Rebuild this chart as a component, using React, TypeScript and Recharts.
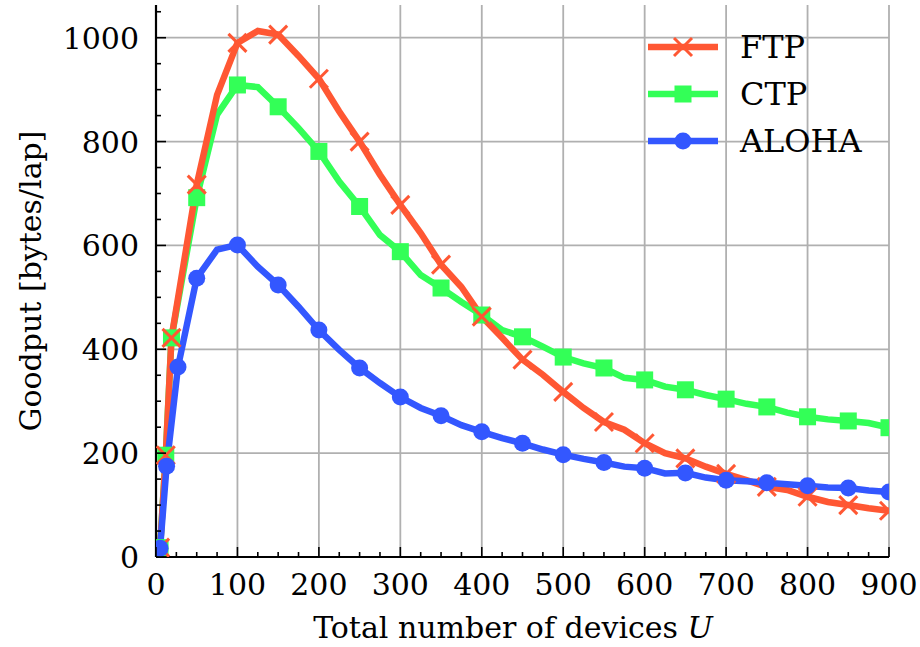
import React from 'react'
import {
    LineChart,
    Line,
    XAxis,
    YAxis,
    CartesianGrid,
    Legend,
    Label,
} from 'recharts'

// devices U and goodput per series
const ftpU = [5, 12, 19, 50, 75, 100, 125, 150, 175, 200, 225, 250, 275, 300, 325, 350, 375, 400, 425, 450, 475, 500, 525, 550, 575, 600, 625, 650, 675, 700, 725, 750, 775, 800, 825, 850, 875, 900]
const ftpGoodput = [18, 196, 422, 717, 890, 990, 1013, 1006, 965, 921, 858, 800, 736, 678, 624, 563, 520, 463, 422, 380, 351, 318, 287, 260, 245, 219, 200, 190, 174, 160, 148, 135, 129, 116, 106, 100, 94, 89]

const ctpU = [5, 12, 19, 50, 75, 100, 125, 150, 175, 200, 225, 250, 275, 300, 325, 350, 375, 400, 425, 450, 475, 500, 525, 550, 575, 600, 625, 650, 675, 700, 725, 750, 775, 800, 825, 850, 875, 900]
const ctpGoodput = [18, 196, 422, 692, 852, 909, 905, 867, 826, 781, 723, 675, 620, 588, 543, 518, 491, 466, 437, 424, 405, 385, 373, 364, 345, 341, 328, 322, 312, 304, 295, 289, 278, 270, 265, 262, 258, 249]

const alohaU = [5, 13, 27, 50, 75, 100, 125, 150, 175, 200, 225, 250, 275, 300, 325, 350, 375, 400, 425, 450, 475, 500, 525, 550, 575, 600, 625, 650, 675, 700, 725, 750, 775, 800, 825, 850, 875, 900]
const alohaGoodput = [17, 175, 366, 537, 592, 601, 559, 524, 482, 437, 399, 364, 335, 308, 287, 272, 254, 241, 229, 219, 207, 197, 189, 182, 174, 171, 161, 162, 153, 148, 146, 143, 140, 137, 134, 133, 128, 125]

const xTicks = Array.from({ length: 37 }, (_, i) => i * 25)
const xMajor = [0, 100, 200, 300, 400, 500, 600, 700, 800, 900]
const yTicks = Array.from({ length: 22 }, (_, i) => i * 50)
const yMajor = [0, 200, 400, 600, 800, 1000]

const series = [
    { name: 'FTP', color: '#ff5733', marker: 'x' },
    { name: 'CTP', color: '#33ff57', marker: 'square' },
    { name: 'ALOHA', color: '#3357ff', marker: 'circle' },
]

const zip = (us: number[], vals: number[]) => us.map((u, i) => ({ u, goodput: vals[i] }))
const ftpData = zip(ftpU, ftpGoodput)
const ctpData = zip(ctpU, ctpGoodput)
const alohaData = zip(alohaU, alohaGoodput)

const FONT = 'DejaVu Serif'
const LINE_W = 6.5

const MarkerShape = ({ cx, cy, kind, color }: any) => {
    if (kind === 'x') {
        const s = 9
        return (
            <g stroke={color} strokeWidth={3}>
                <line x1={cx - s} y1={cy - s} x2={cx + s} y2={cy + s} />
                <line x1={cx - s} y1={cy + s} x2={cx + s} y2={cy - s} />
            </g>
        )
    }
    if (kind === 'square') {
        return <rect x={cx - 8.5} y={cy - 8.5} width={17} height={17} fill={color} />
    }
    return <circle cx={cx} cy={cy} r={8.5} fill={color} />
}

// markers on the early points and every 50 devices
const makeDot = (kind: string, color: string) => (props: any) => {
    const { cx, cy, payload, index } = props
    const show = payload.u < 50 || payload.u % 50 === 0
    if (!show) return <g key={`d-${kind}-${index}`} />
    return (
        <g key={`d-${kind}-${index}`}>
            <MarkerShape cx={cx} cy={cy} kind={kind} color={color} />
        </g>
    )
}

const BottomTick = ({ x, y, payload }: any) => {
    const major = xMajor.includes(payload.value)
    return (
        <g>
            <line x1={x} y1={y} x2={x} y2={y - (major ? 10 : 5)} stroke="#000" strokeWidth={1.6} />
            {major && (
                <text x={x} y={y + 38} textAnchor="middle" fontFamily={FONT} fontSize={30} fill="#000">
                    {payload.value}
                </text>
            )}
        </g>
    )
}

const TopTick = ({ x, y, payload }: any) => {
    const major = xMajor.includes(payload.value)
    return <line x1={x} y1={y} x2={x} y2={y + (major ? 10 : 5)} stroke="#000" strokeWidth={1.6} />
}

const LeftTick = ({ x, y, payload }: any) => {
    const major = yMajor.includes(payload.value)
    return (
        <g>
            <line x1={x} y1={y} x2={x + (major ? 10 : 5)} y2={y} stroke="#000" strokeWidth={1.6} />
            {major && (
                <text x={x - 17} y={y + 11} textAnchor="end" fontFamily={FONT} fontSize={30} fill="#000">
                    {payload.value}
                </text>
            )}
        </g>
    )
}

const RightTick = ({ x, y, payload }: any) => {
    const major = yMajor.includes(payload.value)
    return <line x1={x} y1={y} x2={x - (major ? 10 : 5)} y2={y} stroke="#000" strokeWidth={1.6} />
}

const LegendBox = () => (
    <svg width={250} height={150}>
        {series.map((s, i) => {
            const y = 27 + i * 47
            return (
                <g key={s.name}>
                    <line x1={8} y1={y} x2={78} y2={y} stroke={s.color} strokeWidth={LINE_W} />
                    <MarkerShape cx={43} cy={y} kind={s.marker} color={s.color} />
                    <text x={100} y={y + 11} fontFamily={FONT} fontSize={32} fill="#000">
                        {s.name}
                    </text>
                </g>
            )
        })}
    </svg>
)

const App = () => {
    const axisLine = { stroke: '#000', strokeWidth: 2.2 }
    return (
        <div style={{ position: 'absolute', left: 0, top: 0, background: '#fff' }}>
            <LineChart width={920} height={647} margin={{ top: 5, right: 31, bottom: 0, left: 0 }}>
                <CartesianGrid
                    xAxisId="bottom"
                    yAxisId="left"
                    stroke="#b0b0b0"
                    strokeWidth={1.8}
                    verticalValues={xMajor}
                    horizontalValues={yMajor}
                />
                <XAxis
                    xAxisId="bottom"
                    dataKey="u"
                    type="number"
                    domain={[0, 900]}
                    ticks={xTicks}
                    interval={0}
                    height={90}
                    tickSize={0}
                    tickMargin={0}
                    tickLine={false}
                    axisLine={axisLine}
                    tick={<BottomTick />}
                    allowDataOverflow
                >
                    <Label
                        content={() => (
                            <text x={513} y={638} textAnchor="middle" fontFamily={FONT} fontSize={30} fill="#000">
                                Total number of devices <tspan fontStyle="italic">U</tspan>
                            </text>
                        )}
                    />
                </XAxis>
                <XAxis
                    xAxisId="top"
                    orientation="top"
                    type="number"
                    domain={[0, 900]}
                    ticks={xTicks}
                    interval={0}
                    height={0}
                    tickSize={0}
                    tickMargin={0}
                    tickLine={false}
                    axisLine={axisLine}
                    tick={<TopTick />}
                    allowDataOverflow
                />
                <YAxis
                    yAxisId="left"
                    type="number"
                    domain={[0, 1063]}
                    ticks={yTicks}
                    interval={0}
                    width={156}
                    tickSize={0}
                    tickMargin={0}
                    tickLine={false}
                    axisLine={axisLine}
                    tick={<LeftTick />}
                    allowDataOverflow
                >
                    <Label
                        content={() => (
                            <text
                                x={30}
                                y={281}
                                transform="rotate(-90 30 281)"
                                textAnchor="middle"
                                dominantBaseline="central"
                                fontFamily={FONT}
                                fontSize={30}
                                fill="#000"
                            >
                                Goodput [bytes/lap]
                            </text>
                        )}
                    />
                </YAxis>
                <YAxis
                    yAxisId="right"
                    orientation="right"
                    type="number"
                    domain={[0, 1063]}
                    ticks={yTicks}
                    interval={0}
                    width={0}
                    tickSize={0}
                    tickMargin={0}
                    tickLine={false}
                    axisLine={axisLine}
                    tick={<RightTick />}
                    allowDataOverflow
                />
                <Legend
                    layout="vertical"
                    align="center"
                    verticalAlign="middle"
                    wrapperStyle={{ left: 640, top: 20, width: 250, height: 150 }}
                    content={() => <LegendBox />}
                />
                <Line
                    xAxisId="bottom"
                    yAxisId="left"
                    data={ctpData}
                    dataKey="goodput"
                    name="CTP"
                    stroke="#33ff57"
                    strokeWidth={LINE_W}
                    dot={makeDot('square', '#33ff57')}
                    activeDot={false}
                    isAnimationActive={false}
                />
                <Line
                    xAxisId="bottom"
                    yAxisId="left"
                    data={ftpData}
                    dataKey="goodput"
                    name="FTP"
                    stroke="#ff5733"
                    strokeWidth={LINE_W}
                    dot={makeDot('x', '#ff5733')}
                    activeDot={false}
                    isAnimationActive={false}
                />
                <Line
                    xAxisId="bottom"
                    yAxisId="left"
                    data={alohaData}
                    dataKey="goodput"
                    name="ALOHA"
                    stroke="#3357ff"
                    strokeWidth={LINE_W}
                    dot={makeDot('circle', '#3357ff')}
                    activeDot={false}
                    isAnimationActive={false}
                />
            </LineChart>
        </div>
    )
}

export default App
